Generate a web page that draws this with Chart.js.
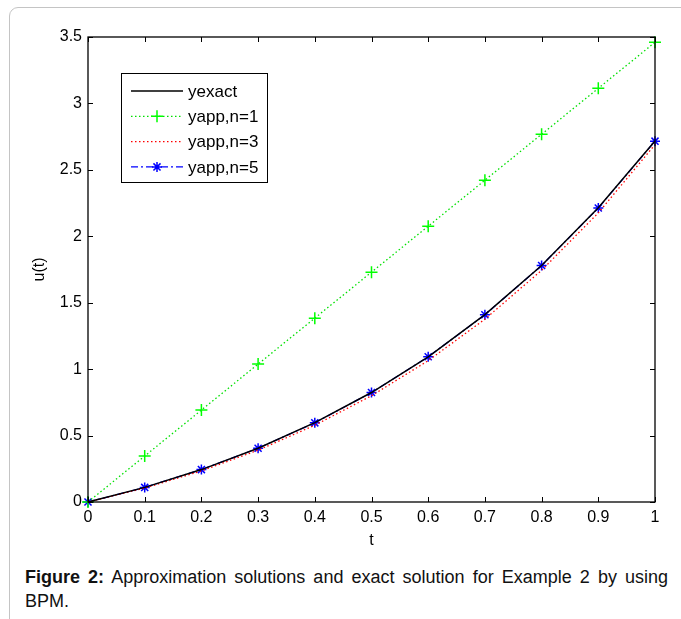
<!DOCTYPE html>
<html>
<head>
<meta charset="utf-8">
<script src="https://cdn.jsdelivr.net/npm/chart.js@4.4.1/dist/chart.umd.min.js"></script>
<style>
  body { margin: 0; background: #fff; font-family: "Liberation Sans", Arial, sans-serif; }
  #frame {
    position: absolute; left: 9px; top: 7px; width: 800px; height: 700px;
    border: 1px solid #c4c4c4; border-top-left-radius: 9px;
  }
  #wrap { position: absolute; left: 0; top: 0; width: 681px; height: 560px; }
  #caption {
    position: absolute; left: 25px; top: 565px; width: 643px;
    font-size: 18px; line-height: 24px; text-align: justify; color: #111;
  }
</style>
</head>
<body>
<div id="frame"></div>
<div id="wrap"><canvas id="solChart"></canvas></div>
<div id="caption"><b>Figure 2:</b> Approximation solutions and exact solution for Example 2 by using BPM.</div>

<script>
// values
const tValues = [0, 0.1, 0.2, 0.3, 0.4, 0.5, 0.6, 0.7, 0.8, 0.9, 1.0];
const yExact  = [0, 0.110, 0.244, 0.405, 0.597, 0.824, 1.093, 1.410, 1.780, 2.214, 2.718];
const yAppN1  = [0, 0.346, 0.692, 1.038, 1.384, 1.730, 2.076, 2.422, 2.768, 3.114, 3.460];
const yAppN3  = [0, 0.105, 0.234, 0.390, 0.578, 0.800, 1.064, 1.376, 1.744, 2.176, 2.690];
const yAppN5  = [0, 0.110, 0.244, 0.405, 0.596, 0.824, 1.093, 1.409, 1.780, 2.213, 2.716];
const seriesNames = ['yexact', 'yapp,n=1', 'yapp,n=3', 'yapp,n=5'];

const FONT = '"Liberation Sans", Arial, sans-serif';

function pts(ys) {
    return ys.map((y, i) => ({ x: tValues[i], y: y }));
}

// box + inward ticks, like matlab
const boxPlugin = {
    id: 'box',
    afterDatasetsDraw(chart) {
        const { ctx, chartArea: a, scales } = chart;
        ctx.save();
        ctx.strokeStyle = '#000';
        ctx.lineWidth = 1;
        ctx.beginPath();
        scales.x.ticks.forEach(t => {
            const px = Math.round(scales.x.getPixelForValue(t.value)) + 0.5;
            ctx.moveTo(px, a.bottom); ctx.lineTo(px, a.bottom - 5);
            ctx.moveTo(px, a.top); ctx.lineTo(px, a.top + 5);
        });
        scales.y.ticks.forEach(t => {
            const py = Math.round(scales.y.getPixelForValue(t.value)) + 0.5;
            ctx.moveTo(a.left, py); ctx.lineTo(a.left + 5, py);
            ctx.moveTo(a.right, py); ctx.lineTo(a.right - 5, py);
        });
        ctx.stroke();
        ctx.lineWidth = 1.3;
        ctx.strokeRect(a.left, a.top, a.right - a.left, a.bottom - a.top);
        ctx.restore();
    }
};

// legend box inside the axes
const legendPlugin = {
    id: 'boxLegend',
    afterDraw(chart) {
        const ctx = chart.ctx;
        const x0 = 121, y0 = 73, w = 146, h = 109;
        ctx.save();
        ctx.fillStyle = '#fff';
        ctx.fillRect(x0, y0, w, h);
        ctx.strokeStyle = '#000';
        ctx.lineWidth = 1;
        ctx.strokeRect(x0 + 0.5, y0 + 0.5, w, h);
        chart.data.datasets.forEach((ds, i) => {
            const y = y0 + 18 + i * 25.3;
            ctx.strokeStyle = ds.borderColor;
            ctx.lineWidth = ds.borderWidth;
            ctx.setLineDash(ds.borderDash || []);
            ctx.beginPath();
            ctx.moveTo(131, y); ctx.lineTo(183, y);
            ctx.stroke();
            ctx.setLineDash([]);
            if (ds.pointRadius > 0) {
                ctx.strokeStyle = ds.pointBorderColor;
                ctx.lineWidth = ds.pointBorderWidth;
                Chart.helpers.drawPoint(ctx, {
                    pointStyle: ds.pointStyle, radius: ds.pointRadius,
                    borderWidth: ds.pointBorderWidth, rotation: 0
                }, 157, y);
            }
            ctx.fillStyle = '#000';
            ctx.font = '17px ' + FONT;
            ctx.textBaseline = 'middle';
            ctx.fillText(ds.label, 188, y + 1);
        });
        ctx.restore();
    }
};

new Chart(document.getElementById('solChart'), {
    type: 'line',
    data: {
        datasets: [
            {
                label: seriesNames[0], data: pts(yExact),
                borderColor: '#000', borderWidth: 1.5, pointRadius: 0, clip: false
            },
            {
                label: seriesNames[1], data: pts(yAppN1),
                borderColor: '#00e000', borderWidth: 1.3, borderDash: [1.5, 2.5],
                pointStyle: 'cross', pointRadius: 6, pointBorderWidth: 1.5,
                pointBorderColor: '#00ff00', clip: false
            },
            {
                label: seriesNames[2], data: pts(yAppN3),
                borderColor: '#ff0000', borderWidth: 1.3, borderDash: [1.5, 2.5],
                pointRadius: 0, clip: false
            },
            {
                label: seriesNames[3], data: pts(yAppN5),
                borderColor: '#0000ff', borderWidth: 1.3, borderDash: [7, 3, 2, 3],
                pointStyle: 'star', pointRadius: 5, pointBorderWidth: 1.5,
                pointBorderColor: '#0000ff', clip: false
            }
        ]
    },
    options: {
        responsive: true,
        maintainAspectRatio: false,
        animation: false,
        layout: { padding: { top: 37, right: 26, left: 0, bottom: 0 } },
        plugins: { legend: { display: false }, tooltip: { enabled: false } },
        elements: { line: { tension: 0 } },
        scales: {
            x: {
                type: 'linear', min: 0, max: 1,
                grid: { display: false, drawTicks: false },
                border: { display: false },
                ticks: {
                    stepSize: 0.1, padding: 6, color: '#000', maxRotation: 0,
                    font: { family: FONT, size: 16 },
                    callback: v => String(+v.toFixed(1))
                },
                title: {
                    display: true, text: 't', color: '#000',
                    font: { family: FONT, size: 16 }, padding: { top: 0, bottom: 10 }
                },
                afterFit: s => { s.height = 58; }
            },
            y: {
                type: 'linear', min: 0, max: 3.5,
                grid: { display: false, drawTicks: false },
                border: { display: false },
                ticks: {
                    stepSize: 0.5, padding: 6, color: '#000',
                    font: { family: FONT, size: 16 },
                    callback: v => String(+v.toFixed(1))
                },
                title: {
                    display: true, text: 'u(t)', color: '#000',
                    font: { family: FONT, size: 16 }, padding: { top: 30, bottom: 0 }
                },
                afterFit: s => { s.width = 88; }
            }
        }
    },
    plugins: [boxPlugin, legendPlugin]
});
</script>
</body>
</html>
